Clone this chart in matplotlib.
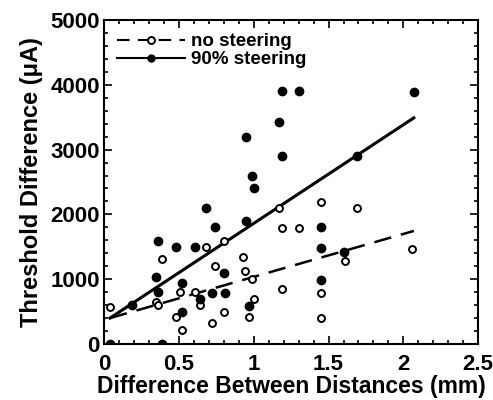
import numpy as np
import matplotlib.pyplot as plt
from matplotlib.ticker import MultipleLocator

plt.rcParams['font.family'] = ['Liberation Sans', 'DejaVu Sans']
plt.rcParams['font.weight'] = 'bold'

# no steering (open circles)
open_x = [0.04, 0.39, 0.35, 0.36, 0.48, 0.52, 0.51, 0.61, 0.68, 0.64, 0.74, 0.72,
          0.80, 0.80, 0.93, 0.94, 0.97, 0.99, 1.00, 1.17, 1.45, 1.69, 1.19, 1.30,
          1.19, 1.45, 1.45, 1.61, 2.06]
open_y = [570, 1310, 650, 600, 420, 215, 800, 800, 1500, 600, 1200, 320,
          490, 1590, 1340, 1130, 420, 1000, 690, 2100, 2190, 2100, 1790, 1790,
          850, 790, 400, 1280, 1470]

# 90% steering (filled circles)
fill_x = [0.04, 0.39, 0.19, 0.36, 0.35, 0.36, 0.48, 0.52, 0.52, 0.61, 0.64, 0.72,
          0.81, 0.68, 0.74, 0.80, 0.95, 0.95, 0.99, 1.00, 0.97, 1.17, 1.19,
          1.19, 1.30, 1.45, 1.45, 1.45, 1.60, 1.69, 2.07]
fill_y = [0, 0, 600, 1590, 1030, 800, 1500, 940, 500, 1500, 700, 790,
          790, 2100, 1800, 1100, 1900, 3200, 2600, 2400, 590, 3430, 2900,
          3900, 3900, 1800, 1480, 990, 1420, 2900, 3890]

# regression lines (end points)
fit_x = [0.04, 2.07]
no_fit = [400, 1745]
st_fit = [400, 3490]

fig = plt.figure(figsize=(4.93, 4.0), dpi=100)
ax = fig.add_axes([0.211, 0.14, 0.759, 0.81])

ax.plot(fit_x, no_fit, color='black', lw=1.8, dashes=(7, 4))
ax.plot(fit_x, st_fit, color='black', lw=2.2)
ax.plot(open_x, open_y, 'o', ms=5, mfc='white', mec='black', mew=1.4)
ax.plot(fill_x, fill_y, 'o', ms=6, color='black')

# legend handles
ax.plot([], [], color='black', lw=1.5, dashes=(6, 4), marker='o', ms=5,
        mfc='white', mec='black', mew=1.4, label='no steering')
ax.plot([], [], color='black', lw=1.5, marker='o', ms=5, label='90% steering')
handles, labels = ax.get_legend_handles_labels()
ax.legend(handles, labels, loc='upper left', frameon=False,
          handlelength=3.6, borderaxespad=0.3, labelspacing=0.05,
          handletextpad=0.35, prop={'weight': 'bold', 'size': 13.5})

ax.set_xlim(0, 2.5)
ax.set_ylim(0, 5000)
ax.xaxis.set_major_locator(MultipleLocator(0.5))
ax.xaxis.set_minor_locator(MultipleLocator(0.1))
ax.yaxis.set_major_locator(MultipleLocator(1000))
ax.yaxis.set_minor_locator(MultipleLocator(200))
ax.set_xticks([0, 0.5, 1, 1.5, 2, 2.5])
ax.set_xticklabels(['0', '0.5', '1', '1.5', '2', '2.5'])
ax.tick_params(which='both', direction='in', top=True, right=True, width=1.2)
ax.tick_params(which='major', length=6, labelsize=16, pad=3)
ax.tick_params(axis='x', which='major', pad=7)
ax.tick_params(which='minor', length=3)
for lab in ax.get_xticklabels() + ax.get_yticklabels():
    lab.set_fontweight('bold')
for sp in ax.spines.values():
    sp.set_linewidth(1.5)

ax.set_xlabel('Difference Between Distances (mm)', fontsize=16.5, fontweight='bold', labelpad=0)
ax.set_ylabel('Threshold Difference (\u03bcA)', fontsize=17, fontweight='bold', labelpad=5)

fig.savefig('out.png', dpi=100)
